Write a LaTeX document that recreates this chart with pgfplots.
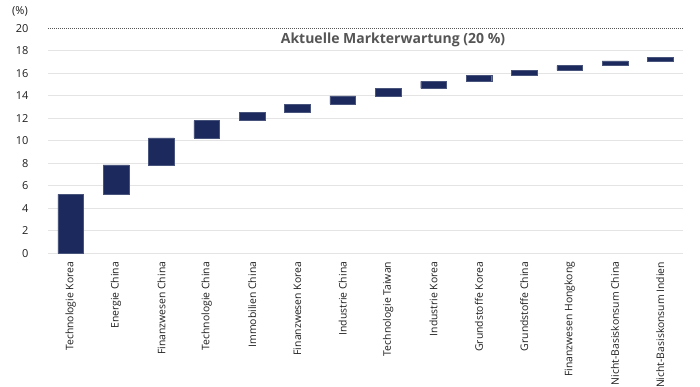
\documentclass[border=0pt]{standalone}
\usepackage{fontspec}
\setmainfont{Open Sans}
\usepackage{pgfplots}
\usepackage{pgfplotstable}
\pgfplotsset{compat=1.18}
\definecolor{navy}{RGB}{28,41,92}
\definecolor{gridc}{RGB}{228,228,228}
\definecolor{txt}{RGB}{30,30,30}
\definecolor{ttl}{RGB}{85,85,85}
\pgfplotstableread{
x base delta
0 0.00 5.24
1 5.24 2.61
2 7.85 2.40
3 10.25 1.55
4 11.80 0.73
5 12.53 0.74
6 13.27 0.73
7 14.00 0.67
8 14.67 0.61
9 15.28 0.54
10 15.82 0.45
11 16.27 0.41
12 16.68 0.42
13 17.10 0.32
}\data
\begin{document}
\begin{tikzpicture}[x=1pt,y=1pt]
\useasboundingbox (0,0) rectangle (700,387);
\begin{axis}[
  at={(48pt,133.7pt)}, anchor=south west,
  scale only axis, width=635pt, height=225pt,
  xmin=-0.5, xmax=13.5, ymin=0, ymax=20,
  axis line style={draw=none},
  major tick length=0,
  ybar stacked, bar width=0.566,
  xtick={0,...,13},
  xticklabels={Technologie Korea, Energie China, Finanzwesen China, Technologie China, Immobilien China, Finanzwesen Korea, Industrie China, Technologie Taiwan, Industrie Korea, Grundstoffe Korea, Grundstoffe China, Finanzwesen Hongkong, Nicht-Basiskonsum China, Nicht-Basiskonsum Indien},
  xticklabel style={rotate=90, anchor=east, font=\fontsize{10.4}{11}\selectfont, text=txt},
  xticklabel shift=5pt,
  ytick={0,2,...,18},
  ymajorgrids, grid style={gridc, line width=1pt},
  extra y ticks={20},
  extra y tick style={grid=major, major grid style={ttl, densely dotted, line width=0.7pt}},
  yticklabel style={anchor=east, font=\fontsize{11}{12}\selectfont, text=txt},
  yticklabel shift=16pt,
  /pgf/number format/assume math mode=true,
]
\addplot[draw=none, fill=none, forget plot] table[x=x, y=base] {\data};
\addplot[fill=navy, draw=navy!80!white, line width=0.4pt] table[x=x, y=delta] {\data};
\end{axis}
\node[font=\fontsize{11}{12}\selectfont, text=txt] at (20,376) {(\%)};
\node[font=\bfseries\fontsize{14}{15}\selectfont, text=ttl] at (393,347.5) {Aktuelle Markterwartung (20 \%)};
\end{tikzpicture}
\end{document}
